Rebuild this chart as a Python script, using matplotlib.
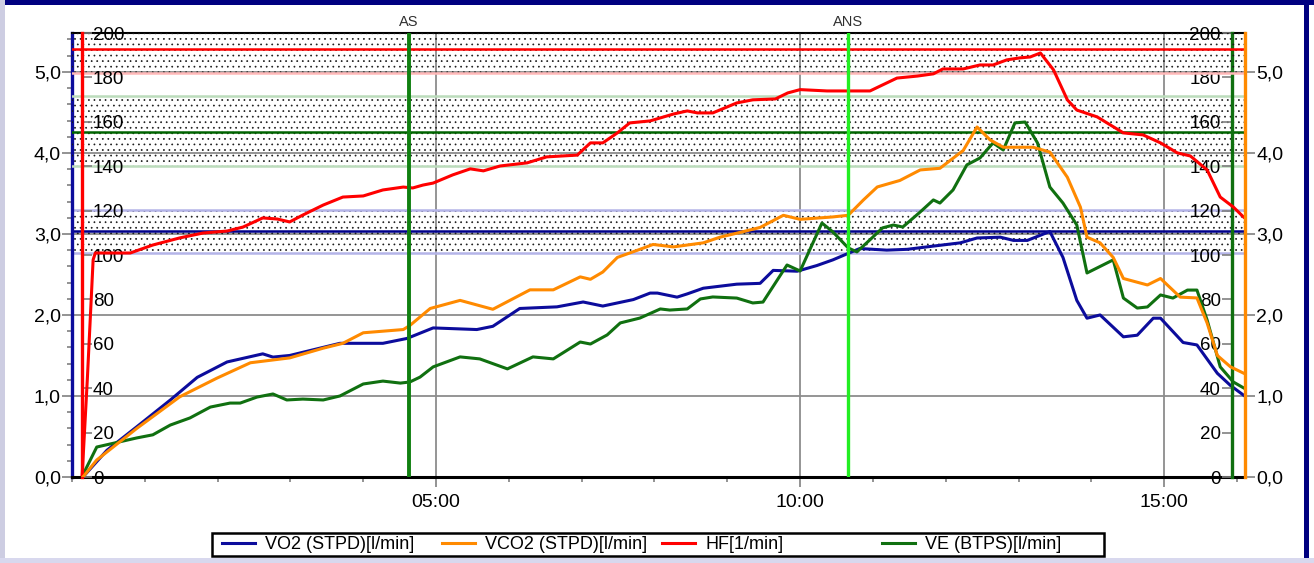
import matplotlib
matplotlib.use("Agg")
import matplotlib.pyplot as plt
from matplotlib.patches import Rectangle
from matplotlib.ticker import MultipleLocator, FixedLocator, FuncFormatter

plt.rcParams['font.family'] = ['Liberation Sans', 'DejaVu Sans']
plt.rcParams['hatch.linewidth'] = 0.5

# --- data (time in minutes) ---
t_vo2 = [0.15, 0.48, 0.89, 1.35, 1.72, 2.13, 2.62, 2.76, 2.99, 3.45, 3.68, 4.27, 4.60, 4.96,
         5.56, 5.78, 6.15, 6.66, 7.02, 7.29, 7.71, 7.94, 8.04, 8.31, 8.45, 8.67, 9.13, 9.45,
         9.63, 9.96, 10.23, 10.45, 10.66, 10.82, 11.19, 11.47, 11.83, 12.20, 12.43, 12.75,
         12.93, 13.12, 13.43, 13.61, 13.80, 13.94, 14.12, 14.44, 14.63, 14.85, 14.95, 15.26,
         15.45, 15.73, 15.91, 16.09]
vo2 = [0.00, 0.33, 0.62, 0.95, 1.23, 1.42, 1.52, 1.48, 1.50, 1.60, 1.65, 1.65, 1.71, 1.84,
       1.82, 1.86, 2.08, 2.10, 2.16, 2.11, 2.19, 2.27, 2.27, 2.22, 2.26, 2.33, 2.38, 2.39,
       2.55, 2.54, 2.61, 2.68, 2.76, 2.82, 2.80, 2.81, 2.85, 2.89, 2.95, 2.96,
       2.92, 2.92, 3.03, 2.71, 2.18, 1.96, 2.00, 1.73, 1.75, 1.96, 1.96, 1.66,
       1.63, 1.28, 1.13, 1.01]

t_vco2 = [0.15, 0.34, 0.89, 1.48, 1.99, 2.45, 2.99, 3.45, 3.72, 4.00, 4.55, 4.64, 4.92, 5.33,
          5.78, 6.29, 6.61, 6.98, 7.12, 7.29, 7.49, 7.80, 7.98, 8.26, 8.67, 8.90, 9.18, 9.45,
          9.77, 10.00, 10.45, 10.66, 10.87, 11.06, 11.37, 11.65, 11.92, 12.24, 12.43, 12.61,
          12.79, 13.20, 13.43, 13.67, 13.85, 13.94, 14.12, 14.30, 14.44, 14.77, 14.95, 15.22,
          15.45, 15.59, 15.73, 15.91, 16.14]
vco2 = [0.00, 0.21, 0.60, 0.99, 1.22, 1.41, 1.47, 1.59, 1.65, 1.78, 1.82, 1.87, 2.08, 2.18,
        2.07, 2.31, 2.31, 2.47, 2.44, 2.53, 2.71, 2.81, 2.87, 2.84, 2.89, 2.96, 3.02, 3.08,
        3.23, 3.18, 3.21, 3.23, 3.42, 3.58, 3.66, 3.79, 3.81, 4.03, 4.32, 4.16,
        4.07, 4.07, 4.01, 3.70, 3.33, 2.96, 2.89, 2.71, 2.45, 2.37, 2.45, 2.22,
        2.21, 1.90, 1.50, 1.36, 1.26]

t_hf = [0.14, 0.21, 0.29, 0.32, 0.80, 1.11, 1.48, 1.80, 2.13, 2.35, 2.62, 2.82, 2.99, 3.17,
        3.45, 3.72, 4.00, 4.27, 4.55, 4.68, 4.82, 4.96, 5.23, 5.47, 5.65, 5.88, 6.25, 6.52,
        6.94, 7.12, 7.29, 7.49, 7.66, 7.94, 8.26, 8.45, 8.59, 8.80, 9.13, 9.35, 9.66, 9.83,
        10.00, 10.37, 10.96, 11.10, 11.33, 11.61, 11.83, 11.96, 12.24, 12.47, 12.65, 12.84,
        13.02, 13.16, 13.30, 13.48, 13.67, 13.80, 14.08, 14.44, 14.71, 14.95, 15.18, 15.36,
        15.59, 15.77, 15.95, 16.09]
hf = [1, 43.7, 97.8, 100.9, 100.9, 104.5, 107.7, 109.9, 110.8, 112.6, 116.7, 116.2, 114.9, 118.0,
      122.5, 126.1, 126.6, 129.3, 130.6, 130.2, 131.5, 132.4, 136.1, 138.8, 137.9, 140.1, 141.5, 144.2,
      145.0, 150.5, 150.5, 155.0, 159.5, 160.4, 163.5, 164.9, 164.0, 164.0, 168.5, 169.9, 170.3, 173.0,
      174.5, 173.9, 173.9, 176.1, 179.7, 180.6, 181.6, 183.8, 183.8, 185.6, 185.6, 187.9,
      188.8, 189.2, 191.0, 183.4, 169.9, 165.3, 162.2, 155.0, 154.1, 150.5, 146.0, 144.6,
      138.3, 126.1, 121.6, 117.1]

t_ve = [0.15, 0.34, 0.89, 1.11, 1.35, 1.62, 1.90, 2.17, 2.31, 2.54, 2.76, 2.95, 3.17, 3.45,
        3.68, 4.00, 4.27, 4.51, 4.64, 4.78, 4.96, 5.33, 5.60, 5.98, 6.33, 6.61, 6.98, 7.12,
        7.35, 7.53, 7.80, 8.08, 8.21, 8.45, 8.63, 8.80, 9.13, 9.35, 9.49, 9.82, 10.00, 10.30,
        10.45, 10.66, 10.78, 11.00, 11.13, 11.28, 11.41, 11.65, 11.83, 11.92, 12.10, 12.29,
        12.47, 12.65, 12.79, 12.95, 13.09, 13.26, 13.43, 13.61, 13.80, 13.94, 14.30, 14.44,
        14.63, 14.77, 14.95, 15.12, 15.32, 15.45, 15.59, 15.77, 15.95, 16.14]
ve = [1, 13.5, 17.6, 19.0, 23.4, 26.6, 31.5, 33.3, 33.3, 36.0, 37.4, 34.7, 35.1, 34.7,
      36.5, 41.9, 43.2, 42.3, 42.8, 45.0, 49.6, 54.1, 53.2, 48.7, 54.1, 53.2, 60.8, 59.9,
      64.0, 69.4, 71.6, 75.7, 75.2, 75.7, 80.2, 81.1, 80.6, 78.4, 78.8, 95.5, 92.8, 114.4,
      110.4, 103.2, 101.4, 108.1, 112.2, 113.5, 112.6, 119.4, 124.8, 123.4, 129.3, 140.6,
      143.7, 150.5, 147.3, 159.5, 159.9, 150.5, 130.6, 123.4, 113.5, 91.9, 97.8, 80.6,
      76.1, 76.6, 82.0, 80.6, 84.2, 84.2, 70.7, 49.6, 42.8, 39.2]

# target zones: low, target, high
vo2_zone = [2.77, 3.04, 3.29]
ve_zone = [140.1, 155.4, 171.6]
hf_zone = [182.0, 192.8, 203.6]

as_time = 4.63
ans_time = 10.66

W, H = 1314, 563
C_VO2, C_VCO2, C_HF, C_VE = '#0c0c9c', '#ff8a00', '#ff0000', '#107010'
TICK = '#808080'

fig = plt.figure(figsize=(W / 100, H / 100), dpi=100)
fig.patch.set_facecolor('white')


def fig_rect(x0, y0, w, h, color):
    # box in pixels from the top-left corner of the picture
    fig.patches.append(Rectangle((x0 / W, 1 - (y0 + h) / H), w / W, h / H,
                                 transform=fig.transFigure, facecolor=color,
                                 edgecolor='none', zorder=0))


fig_rect(0, 0, W, 5, '#000080')
fig_rect(1304, 0, 5, H, '#000080')
fig_rect(0, 0, 5, H, '#cdcde2')
fig_rect(0, 558, W, 5, '#d8d8ee')

ax = fig.add_axes([72 / W, 1 - 477 / H, 1173 / W, 444 / H])
ax_ve = ax.twinx()
ax_hr = ax.twinx()
ax_co2 = ax.twinx()

lmax = 5.48
xmax = 16.11
ax.set_xlim(0, xmax)
for a in (ax, ax_co2):
    a.set_ylim(0, lmax)
for a in (ax_ve, ax_hr):
    a.set_ylim(0, 200)

for a in (ax, ax_ve, ax_hr, ax_co2):
    for s in a.spines.values():
        s.set_visible(False)

# main axis: VO2 on the left
ax.spines['left'].set_visible(True)
ax.spines['left'].set_color(C_VO2)
ax.spines['left'].set_linewidth(2.4)
ax.spines['bottom'].set_visible(True)
ax.spines['bottom'].set_color('black')
ax.spines['bottom'].set_linewidth(2.2)
ax.spines['top'].set_visible(True)
ax.spines['top'].set_color('black')
ax.spines['top'].set_linewidth(1.5)

comma = FuncFormatter(lambda v, p: f"{v:.1f}".replace('.', ','))
ax.yaxis.set_major_locator(MultipleLocator(1))
ax.yaxis.set_minor_locator(MultipleLocator(0.2))
ax.yaxis.set_major_formatter(comma)
ax.tick_params(axis='y', which='major', length=7, width=1.2, color=TICK, labelsize=14, pad=1)
ax.tick_params(axis='y', which='minor', length=3.5, width=1.2, color=TICK)

ax.xaxis.set_major_locator(FixedLocator([5, 10, 15]))
ax.xaxis.set_minor_locator(MultipleLocator(1))
ax.xaxis.set_major_formatter(FuncFormatter(lambda v, p: f"{int(round(v)):02d}:00"))
ax.tick_params(axis='x', which='major', length=7, width=1.2, color=TICK, labelsize=14, pad=5)
ax.tick_params(axis='x', which='minor', length=3.5, width=1.2, color=TICK)

ax.grid(True, which='major', color='#8c8c8c', lw=1.3)
ax.set_axisbelow(True)

# HF axis, just inside the left edge
ax_hr.spines['right'].set_visible(True)
ax_hr.spines['right'].set_position(('axes', 10 / 1173))
ax_hr.spines['right'].set_color(C_HF)
ax_hr.spines['right'].set_linewidth(2.4)
ax_hr.yaxis.set_major_locator(MultipleLocator(20))
ax_hr.tick_params(axis='y', direction='out', length=7, width=1.2, color=TICK, labelsize=13.5, pad=1)

# VE axis, just inside the right edge
ax_ve.spines['left'].set_visible(True)
ax_ve.spines['left'].set_position(('axes', 1160 / 1173))
ax_ve.spines['left'].set_color(C_VE)
ax_ve.spines['left'].set_linewidth(2.4)
ax_ve.yaxis.set_ticks_position('left')
ax_ve.yaxis.set_label_position('left')
ax_ve.yaxis.set_major_locator(MultipleLocator(20))
ax_ve.tick_params(axis='y', direction='out', length=7, width=1.2, color=TICK, labelsize=13.5, pad=1)

# VCO2 axis on the right
ax_co2.spines['right'].set_visible(True)
ax_co2.spines['right'].set_color(C_VCO2)
ax_co2.spines['right'].set_linewidth(2.4)
ax_co2.yaxis.set_major_locator(MultipleLocator(1))
ax_co2.yaxis.set_major_formatter(comma)
ax_co2.tick_params(axis='y', length=7, width=1.2, color=TICK, labelsize=14, pad=1)

# target zones
dots = dict(facecolor='none', edgecolor='#1a1a1a', hatch='...', linewidth=0, zorder=1)
ax.axhspan(vo2_zone[0], vo2_zone[2], **dots)
for v, c in zip(vo2_zone, ['#b4b4e8', '#00008b', '#b4b4e8']):
    ax.axhline(v, color=c, lw=1.8, zorder=1.5)
ax_ve.axhspan(ve_zone[0], ve_zone[2], **dots)
for v, c in zip(ve_zone, ['#bcdcbc', '#006400', '#bcdcbc']):
    ax_ve.axhline(v, color=c, lw=1.8, zorder=1.5)
ax_hr.axhspan(hf_zone[0], hf_zone[2], **dots)
for v, c in zip(hf_zone, ['#ffb8b8', '#ff0000', '#ffb8b8']):
    ax_hr.axhline(v, color=c, lw=1.8, zorder=1.5)

# curves
l_vo2, = ax.plot(t_vo2, vo2, color=C_VO2, lw=2.2, zorder=3)
l_ve, = ax_ve.plot(t_ve, ve, color=C_VE, lw=2.2, zorder=3)
l_hf, = ax_hr.plot(t_hf, hf, color=C_HF, lw=2.2, zorder=3)
l_vco2, = ax_co2.plot(t_vco2, vco2, color=C_VCO2, lw=2.2, zorder=3)

# AS / ANS markers
ax_co2.axvline(as_time, color='#108010', lw=2.8, zorder=4)
ax_co2.axvline(ans_time, color='#22ee22', lw=2.4, zorder=4)
for xt, txt in [(as_time, 'AS'), (ans_time, 'ANS')]:
    ax_co2.text(xt, 1 + 11 / 444, txt, transform=ax_co2.get_xaxis_transform(),
                ha='center', va='center', fontsize=10.5, color='#303030')

# legend with fixed column pitch
fig.patches.append(Rectangle((212 / W, 1 - 556 / H), 892 / W, 23 / H, transform=fig.transFigure,
                             facecolor='white', edgecolor='black', lw=1.8, zorder=1))
entries = [(l_vo2, 'VO2 (STPD)[l/min]'), (l_vco2, 'VCO2 (STPD)[l/min]'),
           (l_hf, 'HF[1/min]'), (l_ve, 'VE (BTPS)[l/min]')]
for i, (h, lab) in enumerate(entries):
    fig.legend([h], [lab], loc='center left', bbox_to_anchor=((222 + 220 * i) / W, 1 - 544.5 / H),
               frameon=False, fontsize=13, handlelength=1.85, handletextpad=0.55,
               borderpad=0, borderaxespad=0)

fig.savefig('out.png', dpi=100)
